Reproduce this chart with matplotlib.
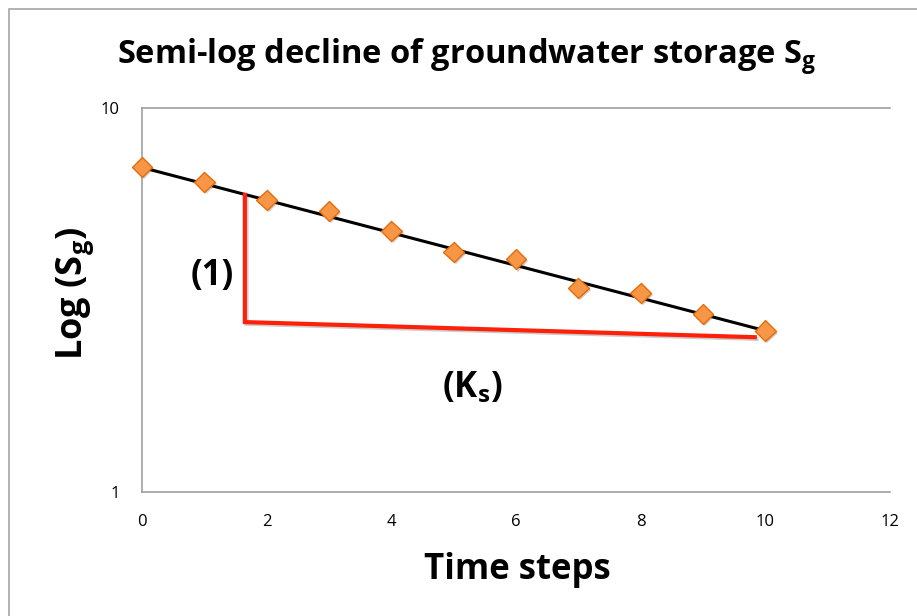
import matplotlib
matplotlib.use("Agg")
import matplotlib.pyplot as plt
import matplotlib.patheffects as pe
from matplotlib.patches import Rectangle

FONT = 'Open Sans'
plt.rcParams['font.family'] = [FONT, 'DejaVu Sans']
plt.rcParams['mathtext.fontset'] = 'custom'
plt.rcParams['mathtext.rm'] = FONT
plt.rcParams['mathtext.bf'] = FONT + ':bold'
plt.rcParams['mathtext.it'] = FONT + ':italic'

# Data
time_steps = [0, 1, 2, 3, 4, 5, 6, 7, 8, 9, 10]
storage = [7.02, 6.42, 5.76, 5.39, 4.78, 4.22, 4.04, 3.40, 3.30, 2.91, 2.63]
trend_x = [0, 10]
trend_y = [7.0, 2.63]
red_x = [1.65, 1.65, 9.83]
red_y = [5.94, 2.77, 2.53]
x_ticks = [0, 2, 4, 6, 8, 10, 12]
y_ticks = [1, 10]
y_tick_labels = ['1', '10']

W, H = 917, 616
fig = plt.figure(figsize=(W / 100, H / 100), dpi=100)
fig.patch.set_facecolor('white')
fig.patches.append(Rectangle((8.5 / W, -0.1), 1.2, 1 - 9 / H + 0.1, transform=fig.transFigure,
                             fill=False, edgecolor='#a6a6a6', linewidth=1.2))

ax = fig.add_axes([142 / W, 1 - 492 / H, (890 - 142) / W, (492 - 108) / H])
ax.set_yscale('log')
ax.set_xlim(0, 12)
ax.set_ylim(1, 10)

shadow = [pe.SimpleLineShadow(offset=(1.2, -1.2), alpha=0.2), pe.Normal()]
ax.plot(trend_x, trend_y, color='black', linewidth=2.2, zorder=3)
ax.plot(red_x, red_y, color='#ff200a', linewidth=3.0, solid_joinstyle='miter', zorder=3,
        path_effects=shadow)
ax.plot(time_steps, storage, linestyle='none', marker='D', markersize=10.5,
        markerfacecolor='#f79646', markeredgecolor='#e46c0a', markeredgewidth=1.0,
        zorder=4, clip_on=False,
        path_effects=[pe.SimplePatchShadow(offset=(1.5, -1.5), alpha=0.25), pe.Normal()])

ax.set_xticks(x_ticks)
ax.set_xticklabels([str(t) for t in x_ticks])
ax.set_yticks(y_ticks)
ax.set_yticklabels(y_tick_labels)
ax.yaxis.set_minor_locator(matplotlib.ticker.NullLocator())
ax.tick_params(axis='both', length=0, labelsize=12, colors='black')
ax.tick_params(axis='x', pad=16)
ax.tick_params(axis='y', pad=16)

ax.spines['right'].set_visible(False)
for s in ['left', 'bottom', 'top']:
    ax.spines[s].set_color('#a0a0a0')
    ax.spines[s].set_linewidth(1.2)

ax.text(1.12, 3.65, '(1)', fontsize=25, fontweight='bold', ha='center', va='center')
ax.text(5.3, 1.86, r'(K$_\mathbf{s}$)', fontsize=25, fontweight='bold', ha='center', va='center')

fig.text(467 / W, 1 - 57 / H, r'Semi-log decline of groundwater storage S$_\mathbf{g}$',
         fontsize=23.5, fontweight='bold', ha='center', va='center')
fig.text(517 / W, 1 - 570 / H, 'Time steps', fontsize=25, fontweight='bold',
         ha='center', va='center')
fig.text(75 / W, 1 - 293 / H, r'Log (S$_\mathbf{g}$)', fontsize=26, fontweight='bold',
         rotation=90, ha='center', va='center')

fig.savefig('out.png', dpi=100, facecolor='white')
